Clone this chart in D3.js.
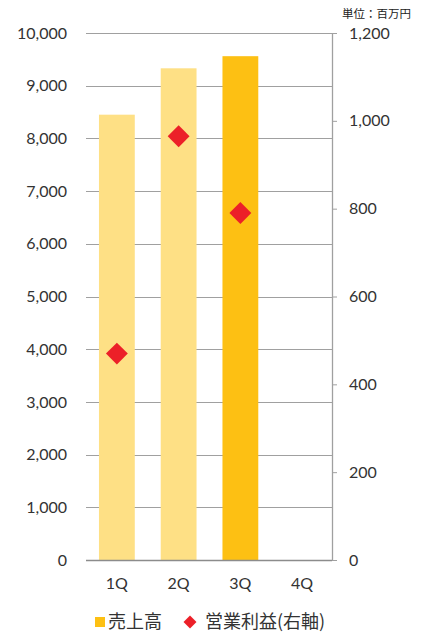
<!DOCTYPE html>
<html><head><meta charset="utf-8">
<script src="https://cdn.jsdelivr.net/npm/d3@7"></script>
<style>body{margin:0;background:#fff}svg{display:block}</style>
</head><body>
<svg id="c" width="424" height="635"></svg>
<script>
const categories = ["1Q","2Q","3Q","4Q"];
const sales = [8450, 9330, 9560, null];
const profit = [470, 965, 790, null];
const leftTicks = [0,1000,2000,3000,4000,5000,6000,7000,8000,9000,10000];
const rightTicks = [0,200,400,600,800,1000,1200];
const barColors = ["#FEE085","#FEE085","#FDC013","#FDC013"];

const svg = d3.select("#c");
const x = d3.scaleBand().domain(categories).range([86,333]).paddingInner(0.42).paddingOuter(0.21);
const yL = d3.scaleLinear().domain([0,10000]).range([560,33]);
const yR = d3.scaleLinear().domain([0,1200]).range([560,33]);
const font = "Lato, 'Open Sans', sans-serif";
const jfont = "'Noto Sans CJK JP', sans-serif";

// gridlines
svg.append("g").selectAll("line").data(leftTicks.filter(d=>d>0)).join("line")
  .attr("x1",86).attr("x2",332).attr("y1",d=>Math.round(yL(d))+0.5).attr("y2",d=>Math.round(yL(d))+0.5)
  .attr("stroke","#a0a0a0").attr("stroke-width",1);
// left axis
const gl = svg.append("g").attr("transform","translate(86,0)")
  .call(d3.axisLeft(yL).tickValues(leftTicks).tickSize(0).tickPadding(19).tickFormat(d3.format(",")));
gl.select(".domain").remove();
gl.selectAll("text").attr("font-family",font).attr("font-size",16).attr("fill","#333");

// bars
svg.append("g").selectAll("rect").data(categories.map((c,i)=>({c,v:sales[i],i}))).join("rect")
  .filter(d=>d.v!=null)
  .attr("x",d=>x(d.c)).attr("width",x.bandwidth())
  .attr("y",d=>yL(d.v)).attr("height",d=>yL(0)-yL(d.v))
  .attr("fill",d=>barColors[d.i]);

// baseline
svg.append("line").attr("x1",86).attr("x2",332).attr("y1",560.5).attr("y2",560.5)
  .attr("stroke","#8c8c8c").attr("stroke-width",1.3);

// right axis
const gr = svg.append("g").attr("transform","translate(332,0)")
  .call(d3.axisRight(yR).tickValues(rightTicks).tickSize(5).tickPadding(12).tickSizeOuter(0).tickFormat(d3.format(",")));
gr.select(".domain").attr("stroke","#a0a0a0").attr("stroke-width",1.3);
gr.selectAll(".tick line").attr("stroke","#a0a0a0");
gr.selectAll("text").attr("font-family",font).attr("font-size",16).attr("fill","#333");

// x axis labels
svg.append("g").selectAll("text").data(categories).join("text")
  .attr("x",d=>x(d)+x.bandwidth()/2).attr("y",589).attr("text-anchor","middle")
  .attr("font-family",font).attr("font-size",16).attr("fill","#333").text(d=>d);

// diamonds
const diamond = d3.symbol().type(d3.symbolSquare).size(240);
svg.append("g").selectAll("path").data(categories.map((c,i)=>({c,v:profit[i]}))).join("path")
  .filter(d=>d.v!=null)
  .attr("d",diamond)
  .attr("transform",d=>`translate(${x(d.c)+x.bandwidth()/2},${yR(d.v)}) rotate(45)`)
  .attr("fill","#EC2028");

// unit label
svg.append("text").attr("x",411).attr("y",18).attr("text-anchor","end")
  .attr("font-family",jfont).attr("font-size",11.5).attr("fill","#222").text("単位：百万円");

// legend
const lg = svg.append("g");
lg.append("rect").attr("x",95).attr("y",617).attr("width",10).attr("height",10).attr("fill","#FDC013");
lg.append("text").attr("x",108).attr("y",628).attr("font-family",jfont).attr("font-size",18).attr("fill","#333").text("売上高");
lg.append("path").attr("d",d3.symbol().type(d3.symbolSquare).size(84)).attr("transform","translate(190,622) rotate(45)").attr("fill","#EC2028");
lg.append("text").attr("x",205).attr("y",628).attr("font-family",jfont).attr("font-size",18).attr("fill","#333").text("営業利益(右軸)");
</script>
</body></html>
